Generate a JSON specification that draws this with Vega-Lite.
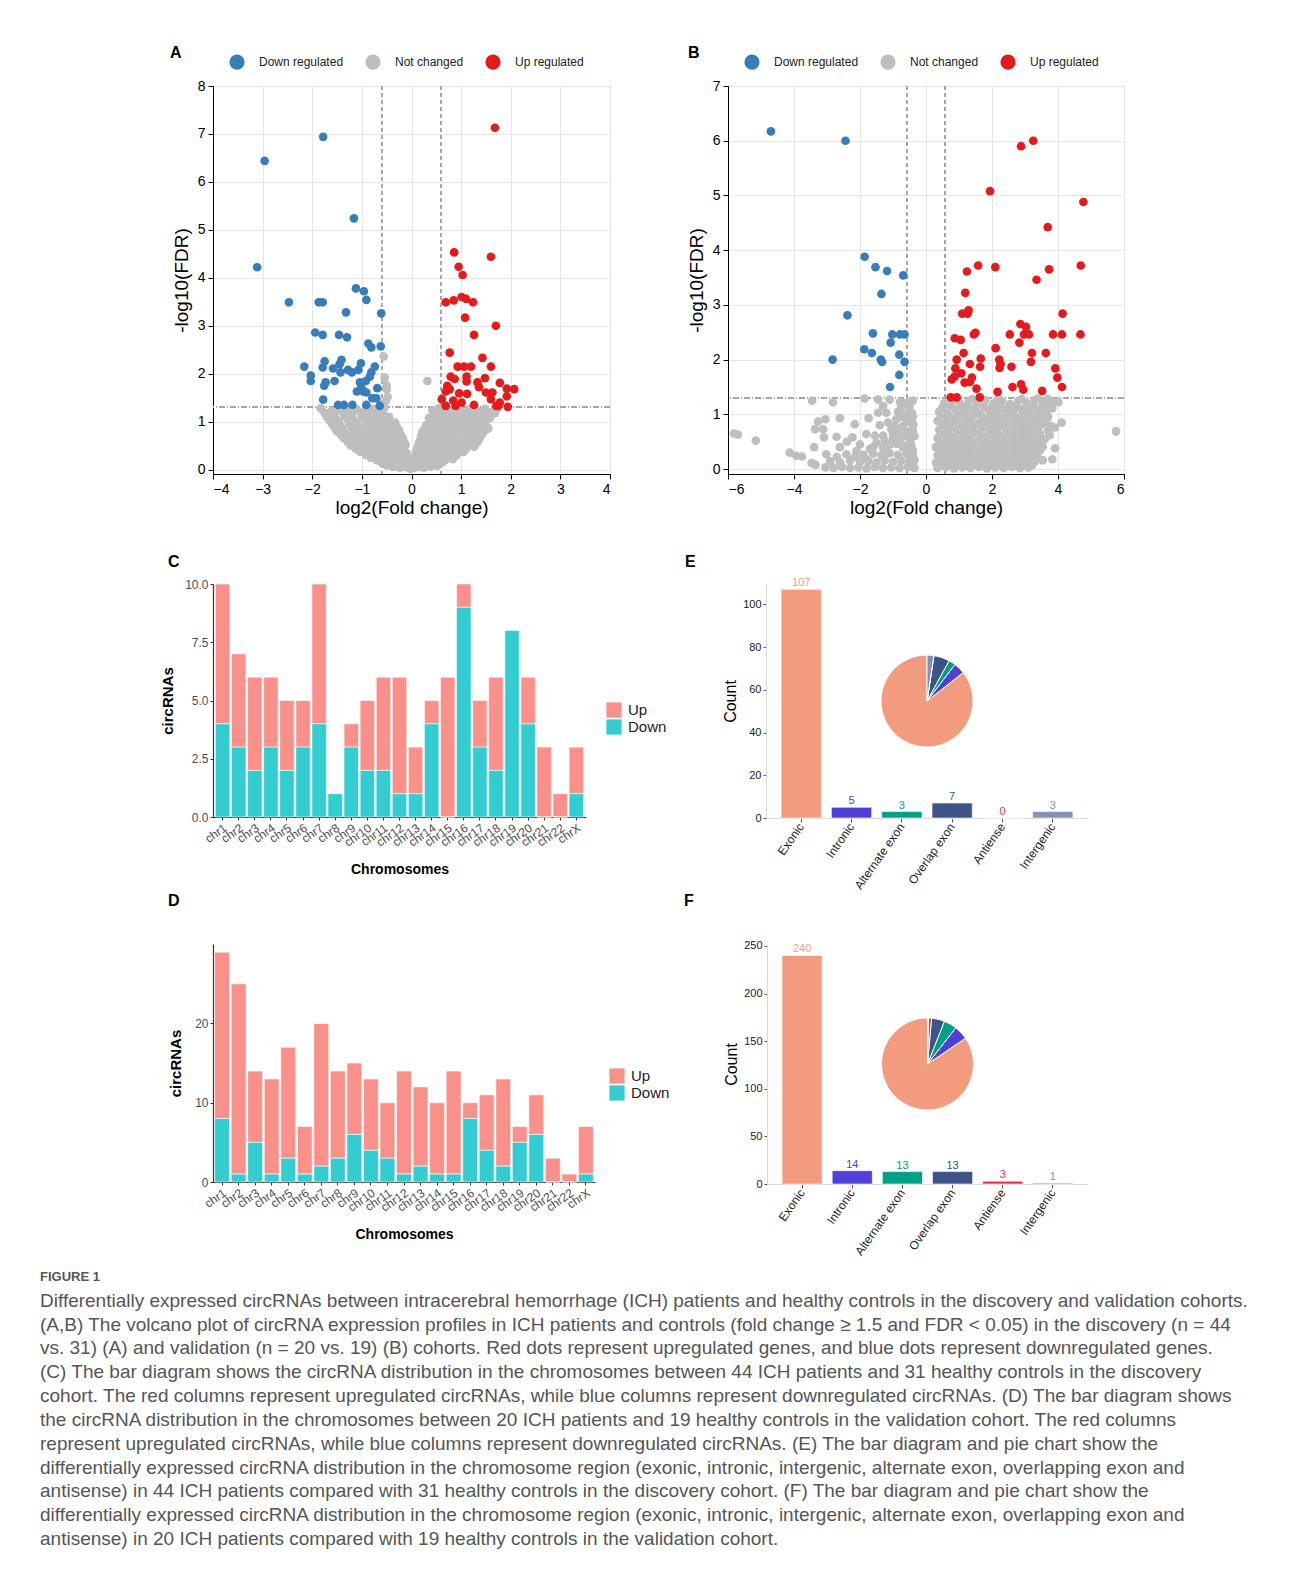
{
  "$schema": "https://vega.github.io/schema/vega-lite/v6.json",
  "background": "white",
  "padding": {"left": 40, "top": 44, "right": 0, "bottom": 0},
  "config": {
    "font": "Liberation Sans",
    "view": {"stroke": null},
    "title": {"fontSize": 16, "fontWeight": "bold", "anchor": "start", "frame": "group", "color": "#000"},
    "axis": {"grid": false, "labelColor": "#222", "titleColor": "#000", "domainColor": "#000", "tickColor": "#000"}
  },
  "resolve": {"scale": {"color": "independent"}, "legend": {"color": "independent"}},
  "datasets": {
    "volA": [
      {"x":-1.82,"y":1.27,"g":"N"},{"x":-1.62,"y":1.22,"g":"N"},{"x":-1.45,"y":1.26,"g":"N"},{"x":-1.28,"y":1.2,"g":"N"},{"x":-1.1,"y":1.25,"g":"N"},{"x":-0.93,"y":1.22,"g":"N"},{"x":-0.78,"y":1.27,"g":"N"},{"x":-0.64,"y":1.2,"g":"N"},{"x":-0.55,"y":1.28,"g":"N"},{"x":0.42,"y":1.24,"g":"N"},{"x":0.55,"y":1.28,"g":"N"},{"x":0.7,"y":1.22,"g":"N"},{"x":0.86,"y":1.27,"g":"N"},{"x":1.0,"y":1.21,"g":"N"},{"x":1.16,"y":1.26,"g":"N"},{"x":1.32,"y":1.23,"g":"N"},{"x":1.48,"y":1.27,"g":"N"},{"x":1.62,"y":1.2,"g":"N"},{"x":1.72,"y":1.26,"g":"N"},
      {"x":-1.7,"y":1.1,"g":"N"},{"x":-1.52,"y":1.06,"g":"N"},{"x":-1.35,"y":1.12,"g":"N"},{"x":-1.18,"y":1.05,"g":"N"},{"x":-1.0,"y":1.1,"g":"N"},{"x":-0.85,"y":1.07,"g":"N"},{"x":-0.7,"y":1.12,"g":"N"},{"x":-0.55,"y":1.05,"g":"N"},{"x":-0.45,"y":1.1,"g":"N"},{"x":0.35,"y":1.08,"g":"N"},{"x":0.5,"y":1.12,"g":"N"},{"x":0.65,"y":1.05,"g":"N"},{"x":0.8,"y":1.1,"g":"N"},{"x":0.95,"y":1.06,"g":"N"},{"x":1.1,"y":1.12,"g":"N"},{"x":1.25,"y":1.05,"g":"N"},{"x":1.4,"y":1.1,"g":"N"},{"x":1.58,"y":1.08,"g":"N"},
      {"x":-1.6,"y":0.95,"g":"N"},{"x":-1.42,"y":0.9,"g":"N"},{"x":-1.25,"y":0.97,"g":"N"},{"x":-1.08,"y":0.92,"g":"N"},{"x":-0.9,"y":0.96,"g":"N"},{"x":-0.73,"y":0.9,"g":"N"},{"x":-0.58,"y":0.95,"g":"N"},{"x":-0.42,"y":0.92,"g":"N"},{"x":-0.33,"y":0.98,"g":"N"},{"x":0.3,"y":0.93,"g":"N"},{"x":0.45,"y":0.97,"g":"N"},{"x":0.6,"y":0.9,"g":"N"},{"x":0.76,"y":0.95,"g":"N"},{"x":0.92,"y":0.91,"g":"N"},{"x":1.08,"y":0.97,"g":"N"},{"x":1.24,"y":0.92,"g":"N"},{"x":1.4,"y":0.96,"g":"N"},{"x":1.53,"y":0.88,"g":"N"},
      {"x":-1.5,"y":0.8,"g":"N"},{"x":-1.33,"y":0.76,"g":"N"},{"x":-1.16,"y":0.82,"g":"N"},{"x":-1.0,"y":0.78,"g":"N"},{"x":-0.83,"y":0.81,"g":"N"},{"x":-0.66,"y":0.76,"g":"N"},{"x":-0.5,"y":0.8,"g":"N"},{"x":-0.36,"y":0.77,"g":"N"},{"x":-0.25,"y":0.82,"g":"N"},{"x":0.22,"y":0.79,"g":"N"},{"x":0.36,"y":0.82,"g":"N"},{"x":0.5,"y":0.76,"g":"N"},{"x":0.66,"y":0.8,"g":"N"},{"x":0.82,"y":0.77,"g":"N"},{"x":0.98,"y":0.82,"g":"N"},{"x":1.14,"y":0.76,"g":"N"},{"x":1.3,"y":0.8,"g":"N"},{"x":1.45,"y":0.78,"g":"N"},
      {"x":-1.36,"y":0.65,"g":"N"},{"x":-1.2,"y":0.62,"g":"N"},{"x":-1.03,"y":0.67,"g":"N"},{"x":-0.87,"y":0.63,"g":"N"},{"x":-0.7,"y":0.66,"g":"N"},{"x":-0.55,"y":0.62,"g":"N"},{"x":-0.4,"y":0.66,"g":"N"},{"x":-0.27,"y":0.63,"g":"N"},{"x":-0.18,"y":0.67,"g":"N"},{"x":0.18,"y":0.64,"g":"N"},{"x":0.3,"y":0.67,"g":"N"},{"x":0.45,"y":0.62,"g":"N"},{"x":0.6,"y":0.66,"g":"N"},{"x":0.76,"y":0.63,"g":"N"},{"x":0.92,"y":0.67,"g":"N"},{"x":1.08,"y":0.62,"g":"N"},{"x":1.23,"y":0.66,"g":"N"},{"x":1.36,"y":0.63,"g":"N"},
      {"x":-1.22,"y":0.5,"g":"N"},{"x":-1.06,"y":0.47,"g":"N"},{"x":-0.9,"y":0.52,"g":"N"},{"x":-0.74,"y":0.48,"g":"N"},{"x":-0.58,"y":0.51,"g":"N"},{"x":-0.44,"y":0.47,"g":"N"},{"x":-0.3,"y":0.51,"g":"N"},{"x":-0.19,"y":0.48,"g":"N"},{"x":-0.12,"y":0.52,"g":"N"},{"x":0.13,"y":0.49,"g":"N"},{"x":0.24,"y":0.52,"g":"N"},{"x":0.38,"y":0.47,"g":"N"},{"x":0.53,"y":0.51,"g":"N"},{"x":0.68,"y":0.48,"g":"N"},{"x":0.83,"y":0.52,"g":"N"},{"x":0.98,"y":0.47,"g":"N"},{"x":1.13,"y":0.51,"g":"N"},{"x":1.26,"y":0.48,"g":"N"},
      {"x":-1.03,"y":0.37,"g":"N"},{"x":-0.88,"y":0.34,"g":"N"},{"x":-0.73,"y":0.38,"g":"N"},{"x":-0.58,"y":0.35,"g":"N"},{"x":-0.44,"y":0.38,"g":"N"},{"x":-0.31,"y":0.34,"g":"N"},{"x":-0.2,"y":0.37,"g":"N"},{"x":-0.1,"y":0.35,"g":"N"},{"x":0.09,"y":0.36,"g":"N"},{"x":0.2,"y":0.38,"g":"N"},{"x":0.33,"y":0.34,"g":"N"},{"x":0.47,"y":0.37,"g":"N"},{"x":0.62,"y":0.35,"g":"N"},{"x":0.77,"y":0.38,"g":"N"},{"x":0.92,"y":0.34,"g":"N"},{"x":1.05,"y":0.37,"g":"N"},
      {"x":-0.82,"y":0.25,"g":"N"},{"x":-0.68,"y":0.22,"g":"N"},{"x":-0.54,"y":0.26,"g":"N"},{"x":-0.4,"y":0.23,"g":"N"},{"x":-0.27,"y":0.26,"g":"N"},{"x":-0.15,"y":0.22,"g":"N"},{"x":-0.07,"y":0.25,"g":"N"},{"x":0.07,"y":0.24,"g":"N"},{"x":0.17,"y":0.26,"g":"N"},{"x":0.3,"y":0.22,"g":"N"},{"x":0.44,"y":0.25,"g":"N"},{"x":0.58,"y":0.23,"g":"N"},{"x":0.72,"y":0.26,"g":"N"},{"x":0.83,"y":0.22,"g":"N"},
      {"x":-0.6,"y":0.14,"g":"N"},{"x":-0.47,"y":0.12,"g":"N"},{"x":-0.34,"y":0.15,"g":"N"},{"x":-0.22,"y":0.12,"g":"N"},{"x":-0.11,"y":0.14,"g":"N"},{"x":-0.04,"y":0.11,"g":"N"},{"x":0.05,"y":0.13,"g":"N"},{"x":0.14,"y":0.15,"g":"N"},{"x":0.25,"y":0.12,"g":"N"},{"x":0.37,"y":0.14,"g":"N"},{"x":0.5,"y":0.12,"g":"N"},{"x":0.62,"y":0.15,"g":"N"},
      {"x":-0.38,"y":0.06,"g":"N"},{"x":-0.24,"y":0.04,"g":"N"},{"x":-0.12,"y":0.05,"g":"N"},{"x":-0.03,"y":0.02,"g":"N"},{"x":0.03,"y":0.03,"g":"N"},{"x":0.13,"y":0.05,"g":"N"},{"x":0.25,"y":0.04,"g":"N"},{"x":0.38,"y":0.06,"g":"N"},
      {"x":-1.75,"y":1.18,"g":"N"},{"x":-1.55,"y":1.15,"g":"N"},{"x":-1.37,"y":1.19,"g":"N"},{"x":-1.2,"y":1.16,"g":"N"},{"x":-1.02,"y":1.18,"g":"N"},{"x":-0.86,"y":1.15,"g":"N"},{"x":-0.7,"y":1.19,"g":"N"},{"x":-0.58,"y":1.16,"g":"N"},{"x":0.48,"y":1.17,"g":"N"},{"x":0.62,"y":1.15,"g":"N"},{"x":0.78,"y":1.19,"g":"N"},{"x":0.93,"y":1.16,"g":"N"},{"x":1.08,"y":1.18,"g":"N"},{"x":1.24,"y":1.15,"g":"N"},{"x":1.4,"y":1.19,"g":"N"},{"x":1.55,"y":1.16,"g":"N"},{"x":1.68,"y":1.18,"g":"N"},
      {"x":-1.64,"y":1.02,"g":"N"},{"x":-1.46,"y":0.99,"g":"N"},{"x":-1.28,"y":1.03,"g":"N"},{"x":-1.1,"y":1.0,"g":"N"},{"x":-0.92,"y":1.02,"g":"N"},{"x":-0.76,"y":0.99,"g":"N"},{"x":-0.6,"y":1.03,"g":"N"},{"x":-0.5,"y":1.0,"g":"N"},{"x":0.38,"y":1.01,"g":"N"},{"x":0.55,"y":1.03,"g":"N"},{"x":0.72,"y":0.99,"g":"N"},{"x":0.88,"y":1.02,"g":"N"},{"x":1.03,"y":1.0,"g":"N"},{"x":1.18,"y":1.03,"g":"N"},{"x":1.33,"y":0.99,"g":"N"},{"x":1.5,"y":1.02,"g":"N"},
      {"x":-1.55,"y":0.87,"g":"N"},{"x":-1.38,"y":0.85,"g":"N"},{"x":-1.2,"y":0.88,"g":"N"},{"x":-1.03,"y":0.86,"g":"N"},{"x":-0.86,"y":0.88,"g":"N"},{"x":-0.68,"y":0.85,"g":"N"},{"x":-0.52,"y":0.88,"g":"N"},{"x":-0.38,"y":0.86,"g":"N"},{"x":-0.29,"y":0.88,"g":"N"},{"x":0.27,"y":0.86,"g":"N"},{"x":0.42,"y":0.88,"g":"N"},{"x":0.57,"y":0.85,"g":"N"},{"x":0.73,"y":0.88,"g":"N"},{"x":0.89,"y":0.86,"g":"N"},{"x":1.05,"y":0.88,"g":"N"},{"x":1.2,"y":0.85,"g":"N"},{"x":1.36,"y":0.88,"g":"N"},{"x":1.5,"y":0.84,"g":"N"},
      {"x":-1.42,"y":0.72,"g":"N"},{"x":-1.26,"y":0.7,"g":"N"},{"x":-1.1,"y":0.73,"g":"N"},{"x":-0.93,"y":0.71,"g":"N"},{"x":-0.77,"y":0.73,"g":"N"},{"x":-0.6,"y":0.7,"g":"N"},{"x":-0.45,"y":0.73,"g":"N"},{"x":-0.32,"y":0.71,"g":"N"},{"x":-0.22,"y":0.73,"g":"N"},{"x":0.2,"y":0.71,"g":"N"},{"x":0.33,"y":0.73,"g":"N"},{"x":0.48,"y":0.7,"g":"N"},{"x":0.64,"y":0.73,"g":"N"},{"x":0.8,"y":0.71,"g":"N"},{"x":0.96,"y":0.73,"g":"N"},{"x":1.12,"y":0.7,"g":"N"},{"x":1.27,"y":0.73,"g":"N"},{"x":1.4,"y":0.71,"g":"N"},
      {"x":-1.28,"y":0.57,"g":"N"},{"x":-1.12,"y":0.55,"g":"N"},{"x":-0.96,"y":0.58,"g":"N"},{"x":-0.8,"y":0.56,"g":"N"},{"x":-0.64,"y":0.58,"g":"N"},{"x":-0.5,"y":0.55,"g":"N"},{"x":-0.35,"y":0.58,"g":"N"},{"x":-0.24,"y":0.56,"g":"N"},{"x":-0.15,"y":0.58,"g":"N"},{"x":0.15,"y":0.56,"g":"N"},{"x":0.27,"y":0.58,"g":"N"},{"x":0.41,"y":0.55,"g":"N"},{"x":0.57,"y":0.58,"g":"N"},{"x":0.72,"y":0.56,"g":"N"},{"x":0.88,"y":0.58,"g":"N"},{"x":1.03,"y":0.55,"g":"N"},{"x":1.18,"y":0.58,"g":"N"},{"x":1.32,"y":0.56,"g":"N"},
      {"x":-1.12,"y":0.43,"g":"N"},{"x":-0.96,"y":0.41,"g":"N"},{"x":-0.8,"y":0.44,"g":"N"},{"x":-0.65,"y":0.42,"g":"N"},{"x":-0.51,"y":0.44,"g":"N"},{"x":-0.37,"y":0.41,"g":"N"},{"x":-0.25,"y":0.44,"g":"N"},{"x":-0.15,"y":0.42,"g":"N"},{"x":0.11,"y":0.42,"g":"N"},{"x":0.22,"y":0.44,"g":"N"},{"x":0.35,"y":0.41,"g":"N"},{"x":0.5,"y":0.44,"g":"N"},{"x":0.65,"y":0.42,"g":"N"},{"x":0.8,"y":0.44,"g":"N"},{"x":0.95,"y":0.41,"g":"N"},{"x":1.1,"y":0.43,"g":"N"},
      {"x":-0.92,"y":0.31,"g":"N"},{"x":-0.77,"y":0.29,"g":"N"},{"x":-0.62,"y":0.32,"g":"N"},{"x":-0.48,"y":0.3,"g":"N"},{"x":-0.34,"y":0.32,"g":"N"},{"x":-0.22,"y":0.29,"g":"N"},{"x":-0.12,"y":0.31,"g":"N"},{"x":0.08,"y":0.3,"g":"N"},{"x":0.18,"y":0.32,"g":"N"},{"x":0.31,"y":0.29,"g":"N"},{"x":0.45,"y":0.32,"g":"N"},{"x":0.6,"y":0.3,"g":"N"},{"x":0.75,"y":0.32,"g":"N"},{"x":0.9,"y":0.29,"g":"N"},
      {"x":-0.7,"y":0.2,"g":"N"},{"x":-0.56,"y":0.18,"g":"N"},{"x":-0.42,"y":0.2,"g":"N"},{"x":-0.29,"y":0.19,"g":"N"},{"x":-0.18,"y":0.2,"g":"N"},{"x":-0.09,"y":0.18,"g":"N"},{"x":0.06,"y":0.19,"g":"N"},{"x":0.15,"y":0.2,"g":"N"},{"x":0.27,"y":0.18,"g":"N"},{"x":0.4,"y":0.2,"g":"N"},{"x":0.54,"y":0.19,"g":"N"},{"x":0.68,"y":0.2,"g":"N"},
      {"x":-0.5,"y":0.09,"g":"N"},{"x":-0.36,"y":0.08,"g":"N"},{"x":-0.24,"y":0.09,"g":"N"},{"x":-0.14,"y":0.08,"g":"N"},{"x":-0.06,"y":0.07,"g":"N"},{"x":0.06,"y":0.08,"g":"N"},{"x":0.16,"y":0.09,"g":"N"},{"x":0.28,"y":0.08,"g":"N"},{"x":0.42,"y":0.09,"g":"N"},{"x":0.52,"y":0.08,"g":"N"},
      {"x":-0.56,"y":2.36,"g":"N"},{"x":-0.54,"y":1.92,"g":"N"},{"x":-0.5,"y":1.76,"g":"N"},{"x":-0.5,"y":1.68,"g":"N"},{"x":-0.48,"y":1.52,"g":"N"},{"x":-0.52,"y":1.43,"g":"N"},{"x":0.32,"y":1.85,"g":"N"},{"x":-1.83,"y":1.28,"g":"N"},{"x":-1.65,"y":1.02,"g":"N"},{"x":1.55,"y":0.86,"g":"N"},{"x":1.63,"y":1.16,"g":"N"},{"x":-0.62,"y":1.37,"g":"N"},
      {"x":-2.96,"y":6.44,"g":"D"},{"x":-1.78,"y":6.94,"g":"D"},{"x":-1.16,"y":5.24,"g":"D"},{"x":-3.11,"y":4.22,"g":"D"},{"x":-2.47,"y":3.49,"g":"D"},{"x":-1.87,"y":3.49,"g":"D"},{"x":-1.79,"y":3.49,"g":"D"},{"x":-1.12,"y":3.78,"g":"D"},{"x":-0.96,"y":3.72,"g":"D"},{"x":-0.91,"y":3.54,"g":"D"},{"x":-1.32,"y":3.28,"g":"D"},{"x":-0.61,"y":3.26,"g":"D"},{"x":-1.94,"y":2.86,"g":"D"},{"x":-1.79,"y":2.81,"g":"D"},{"x":-1.46,"y":2.81,"g":"D"},{"x":-1.3,"y":2.76,"g":"D"},{"x":-0.87,"y":2.63,"g":"D"},{"x":-0.81,"y":2.55,"g":"D"},{"x":-0.62,"y":2.57,"g":"D"},{"x":-2.16,"y":2.15,"g":"D"},{"x":-1.75,"y":2.26,"g":"D"},{"x":-1.79,"y":2.13,"g":"D"},{"x":-1.58,"y":2.11,"g":"D"},{"x":-1.41,"y":2.29,"g":"D"},{"x":-1.45,"y":2.2,"g":"D"},{"x":-1.43,"y":2.03,"g":"D"},{"x":-1.28,"y":2.08,"g":"D"},{"x":-1.2,"y":2.03,"g":"D"},{"x":-1.07,"y":2.08,"g":"D"},{"x":-1.02,"y":2.22,"g":"D"},{"x":-0.74,"y":2.15,"g":"D"},{"x":-0.81,"y":2.03,"g":"D"},{"x":-0.84,"y":1.94,"g":"D"},{"x":-2.03,"y":1.96,"g":"D"},{"x":-2.03,"y":1.85,"g":"D"},{"x":-1.73,"y":1.82,"g":"D"},{"x":-1.76,"y":1.75,"g":"D"},{"x":-1.55,"y":1.85,"g":"D"},{"x":-1.04,"y":1.82,"g":"D"},{"x":-0.92,"y":1.85,"g":"D"},{"x":-1.1,"y":1.63,"g":"D"},{"x":-0.97,"y":1.63,"g":"D"},{"x":-0.91,"y":1.61,"g":"D"},{"x":-1.01,"y":1.72,"g":"D"},{"x":-0.69,"y":1.7,"g":"D"},{"x":-0.79,"y":1.49,"g":"D"},{"x":-0.71,"y":1.49,"g":"D"},{"x":-1.78,"y":1.46,"g":"D"},{"x":-1.48,"y":1.35,"g":"D"},{"x":-1.36,"y":1.35,"g":"D"},{"x":-1.19,"y":1.35,"g":"D"},{"x":-0.91,"y":1.35,"g":"D"},{"x":-0.64,"y":1.33,"g":"D"},
      {"x":1.68,"y":7.13,"g":"U"},{"x":0.86,"y":4.53,"g":"U"},{"x":1.6,"y":4.44,"g":"U"},{"x":0.95,"y":4.23,"g":"U"},{"x":1.03,"y":4.06,"g":"U"},{"x":1.01,"y":3.6,"g":"U"},{"x":1.1,"y":3.56,"g":"U"},{"x":0.69,"y":3.49,"g":"U"},{"x":0.85,"y":3.53,"g":"U"},{"x":1.24,"y":3.49,"g":"U"},{"x":1.08,"y":3.17,"g":"U"},{"x":1.7,"y":3.0,"g":"U"},{"x":1.26,"y":2.81,"g":"U"},{"x":0.77,"y":2.44,"g":"U"},{"x":1.43,"y":2.33,"g":"U"},{"x":0.93,"y":2.15,"g":"U"},{"x":1.06,"y":2.15,"g":"U"},{"x":1.2,"y":2.15,"g":"U"},{"x":1.6,"y":2.15,"g":"U"},{"x":0.79,"y":1.94,"g":"U"},{"x":0.87,"y":1.89,"g":"U"},{"x":1.11,"y":1.94,"g":"U"},{"x":1.11,"y":1.84,"g":"U"},{"x":1.48,"y":1.91,"g":"U"},{"x":1.33,"y":1.82,"g":"U"},{"x":1.78,"y":1.81,"g":"U"},{"x":0.72,"y":1.75,"g":"U"},{"x":0.69,"y":1.63,"g":"U"},{"x":0.77,"y":1.68,"g":"U"},{"x":0.96,"y":1.59,"g":"U"},{"x":1.12,"y":1.58,"g":"U"},{"x":1.36,"y":1.72,"g":"U"},{"x":1.63,"y":1.61,"g":"U"},{"x":1.92,"y":1.69,"g":"U"},{"x":2.07,"y":1.68,"g":"U"},{"x":0.61,"y":1.47,"g":"U"},{"x":0.84,"y":1.44,"g":"U"},{"x":1.01,"y":1.4,"g":"U"},{"x":1.5,"y":1.61,"g":"U"},{"x":1.6,"y":1.47,"g":"U"},{"x":1.92,"y":1.53,"g":"U"},{"x":1.78,"y":1.4,"g":"U"},{"x":1.75,"y":1.33,"g":"U"},{"x":1.26,"y":1.35,"g":"U"},{"x":1.94,"y":1.31,"g":"U"},{"x":0.69,"y":1.33,"g":"U"},{"x":0.89,"y":1.33,"g":"U"},{"x":1.71,"y":1.33,"g":"U"}
    ],
    "volB": [
      {"x":0.55,"y":1.2,"g":"N"},{"x":0.82,"y":1.25,"g":"N"},{"x":1.05,"y":1.19,"g":"N"},{"x":1.3,"y":1.24,"g":"N"},{"x":1.55,"y":1.21,"g":"N"},{"x":1.8,"y":1.26,"g":"N"},{"x":2.05,"y":1.2,"g":"N"},{"x":2.3,"y":1.24,"g":"N"},{"x":2.55,"y":1.19,"g":"N"},{"x":2.8,"y":1.25,"g":"N"},{"x":3.05,"y":1.21,"g":"N"},{"x":3.3,"y":1.26,"g":"N"},{"x":3.55,"y":1.2,"g":"N"},{"x":3.8,"y":1.24,"g":"N"},
      {"x":0.9,"y":1.29,"g":"N"},{"x":1.4,"y":1.28,"g":"N"},{"x":2.2,"y":1.29,"g":"N"},{"x":2.9,"y":1.28,"g":"N"},{"x":3.4,"y":1.29,"g":"N"},
      {"x":0.4,"y":1.05,"g":"N"},{"x":0.65,"y":1.02,"g":"N"},{"x":0.9,"y":1.07,"g":"N"},{"x":1.15,"y":1.03,"g":"N"},{"x":1.4,"y":1.06,"g":"N"},{"x":1.65,"y":1.01,"g":"N"},{"x":1.9,"y":1.07,"g":"N"},{"x":2.15,"y":1.04,"g":"N"},{"x":2.4,"y":1.06,"g":"N"},{"x":2.65,"y":1.02,"g":"N"},{"x":2.9,"y":1.08,"g":"N"},{"x":3.15,"y":1.03,"g":"N"},{"x":3.4,"y":1.06,"g":"N"},{"x":3.65,"y":1.02,"g":"N"},
      {"x":0.35,"y":0.88,"g":"N"},{"x":0.6,"y":0.85,"g":"N"},{"x":0.85,"y":0.9,"g":"N"},{"x":1.1,"y":0.86,"g":"N"},{"x":1.35,"y":0.89,"g":"N"},{"x":1.6,"y":0.84,"g":"N"},{"x":1.85,"y":0.9,"g":"N"},{"x":2.1,"y":0.87,"g":"N"},{"x":2.35,"y":0.91,"g":"N"},{"x":2.6,"y":0.85,"g":"N"},{"x":2.85,"y":0.89,"g":"N"},{"x":3.1,"y":0.86,"g":"N"},{"x":3.35,"y":0.9,"g":"N"},{"x":3.6,"y":0.85,"g":"N"},
      {"x":0.4,"y":0.72,"g":"N"},{"x":0.65,"y":0.69,"g":"N"},{"x":0.9,"y":0.74,"g":"N"},{"x":1.15,"y":0.7,"g":"N"},{"x":1.4,"y":0.73,"g":"N"},{"x":1.65,"y":0.68,"g":"N"},{"x":1.9,"y":0.74,"g":"N"},{"x":2.15,"y":0.71,"g":"N"},{"x":2.4,"y":0.75,"g":"N"},{"x":2.65,"y":0.69,"g":"N"},{"x":2.9,"y":0.73,"g":"N"},{"x":3.15,"y":0.7,"g":"N"},{"x":3.4,"y":0.74,"g":"N"},{"x":3.7,"y":0.7,"g":"N"},
      {"x":0.35,"y":0.56,"g":"N"},{"x":0.6,"y":0.53,"g":"N"},{"x":0.85,"y":0.58,"g":"N"},{"x":1.1,"y":0.54,"g":"N"},{"x":1.35,"y":0.57,"g":"N"},{"x":1.6,"y":0.52,"g":"N"},{"x":1.85,"y":0.58,"g":"N"},{"x":2.1,"y":0.55,"g":"N"},{"x":2.35,"y":0.59,"g":"N"},{"x":2.6,"y":0.53,"g":"N"},{"x":2.85,"y":0.57,"g":"N"},{"x":3.1,"y":0.54,"g":"N"},{"x":3.35,"y":0.58,"g":"N"},{"x":3.6,"y":0.55,"g":"N"},
      {"x":0.3,"y":0.4,"g":"N"},{"x":0.55,"y":0.37,"g":"N"},{"x":0.8,"y":0.42,"g":"N"},{"x":1.05,"y":0.38,"g":"N"},{"x":1.3,"y":0.41,"g":"N"},{"x":1.55,"y":0.36,"g":"N"},{"x":1.8,"y":0.42,"g":"N"},{"x":2.05,"y":0.39,"g":"N"},{"x":2.3,"y":0.43,"g":"N"},{"x":2.55,"y":0.37,"g":"N"},{"x":2.8,"y":0.41,"g":"N"},{"x":3.05,"y":0.38,"g":"N"},{"x":3.3,"y":0.42,"g":"N"},
      {"x":0.35,"y":0.25,"g":"N"},{"x":0.6,"y":0.22,"g":"N"},{"x":0.85,"y":0.27,"g":"N"},{"x":1.1,"y":0.23,"g":"N"},{"x":1.35,"y":0.26,"g":"N"},{"x":1.6,"y":0.21,"g":"N"},{"x":1.85,"y":0.27,"g":"N"},{"x":2.1,"y":0.24,"g":"N"},{"x":2.35,"y":0.28,"g":"N"},{"x":2.6,"y":0.22,"g":"N"},{"x":2.85,"y":0.26,"g":"N"},{"x":3.1,"y":0.23,"g":"N"},{"x":3.35,"y":0.27,"g":"N"},
      {"x":0.3,"y":0.12,"g":"N"},{"x":0.55,"y":0.1,"g":"N"},{"x":0.8,"y":0.14,"g":"N"},{"x":1.05,"y":0.11,"g":"N"},{"x":1.3,"y":0.13,"g":"N"},{"x":1.55,"y":0.09,"g":"N"},{"x":1.8,"y":0.14,"g":"N"},{"x":2.05,"y":0.12,"g":"N"},{"x":2.3,"y":0.15,"g":"N"},{"x":2.55,"y":0.1,"g":"N"},{"x":2.8,"y":0.13,"g":"N"},{"x":3.05,"y":0.11,"g":"N"},{"x":3.3,"y":0.14,"g":"N"},
      {"x":0.35,"y":0.02,"g":"N"},{"x":0.6,"y":0.03,"g":"N"},{"x":0.85,"y":0.01,"g":"N"},{"x":1.1,"y":0.03,"g":"N"},{"x":1.35,"y":0.02,"g":"N"},{"x":1.6,"y":0.04,"g":"N"},{"x":1.85,"y":0.01,"g":"N"},{"x":2.1,"y":0.03,"g":"N"},{"x":2.35,"y":0.02,"g":"N"},{"x":2.6,"y":0.04,"g":"N"},{"x":2.85,"y":0.02,"g":"N"},{"x":3.1,"y":0.03,"g":"N"},
      {"x":0.5,"y":1.13,"g":"N"},{"x":0.75,"y":1.15,"g":"N"},{"x":1.0,"y":1.12,"g":"N"},{"x":1.25,"y":1.14,"g":"N"},{"x":1.5,"y":1.12,"g":"N"},{"x":1.75,"y":1.15,"g":"N"},{"x":2.0,"y":1.13,"g":"N"},{"x":2.25,"y":1.15,"g":"N"},{"x":2.5,"y":1.12,"g":"N"},{"x":2.75,"y":1.14,"g":"N"},{"x":3.0,"y":1.12,"g":"N"},{"x":3.25,"y":1.15,"g":"N"},{"x":3.5,"y":1.13,"g":"N"},{"x":3.75,"y":1.14,"g":"N"},
      {"x":0.45,"y":0.97,"g":"N"},{"x":0.7,"y":0.95,"g":"N"},{"x":0.95,"y":0.98,"g":"N"},{"x":1.2,"y":0.96,"g":"N"},{"x":1.45,"y":0.98,"g":"N"},{"x":1.7,"y":0.95,"g":"N"},{"x":1.95,"y":0.97,"g":"N"},{"x":2.2,"y":0.95,"g":"N"},{"x":2.45,"y":0.98,"g":"N"},{"x":2.7,"y":0.96,"g":"N"},{"x":2.95,"y":0.98,"g":"N"},{"x":3.2,"y":0.95,"g":"N"},{"x":3.45,"y":0.97,"g":"N"},{"x":3.7,"y":0.95,"g":"N"},
      {"x":0.5,"y":0.8,"g":"N"},{"x":0.75,"y":0.78,"g":"N"},{"x":1.0,"y":0.81,"g":"N"},{"x":1.25,"y":0.79,"g":"N"},{"x":1.5,"y":0.81,"g":"N"},{"x":1.75,"y":0.78,"g":"N"},{"x":2.0,"y":0.8,"g":"N"},{"x":2.25,"y":0.79,"g":"N"},{"x":2.5,"y":0.81,"g":"N"},{"x":2.75,"y":0.78,"g":"N"},{"x":3.0,"y":0.8,"g":"N"},{"x":3.25,"y":0.79,"g":"N"},{"x":3.5,"y":0.81,"g":"N"},{"x":3.78,"y":0.79,"g":"N"},
      {"x":0.45,"y":0.64,"g":"N"},{"x":0.7,"y":0.62,"g":"N"},{"x":0.95,"y":0.65,"g":"N"},{"x":1.2,"y":0.63,"g":"N"},{"x":1.45,"y":0.65,"g":"N"},{"x":1.7,"y":0.62,"g":"N"},{"x":1.95,"y":0.64,"g":"N"},{"x":2.2,"y":0.63,"g":"N"},{"x":2.45,"y":0.65,"g":"N"},{"x":2.7,"y":0.62,"g":"N"},{"x":2.95,"y":0.64,"g":"N"},{"x":3.2,"y":0.63,"g":"N"},{"x":3.45,"y":0.65,"g":"N"},{"x":3.75,"y":0.62,"g":"N"},
      {"x":0.42,"y":0.48,"g":"N"},{"x":0.68,"y":0.46,"g":"N"},{"x":0.92,"y":0.49,"g":"N"},{"x":1.18,"y":0.47,"g":"N"},{"x":1.42,"y":0.49,"g":"N"},{"x":1.68,"y":0.46,"g":"N"},{"x":1.92,"y":0.48,"g":"N"},{"x":2.18,"y":0.47,"g":"N"},{"x":2.42,"y":0.49,"g":"N"},{"x":2.68,"y":0.46,"g":"N"},{"x":2.92,"y":0.48,"g":"N"},{"x":3.18,"y":0.47,"g":"N"},{"x":3.45,"y":0.49,"g":"N"},
      {"x":0.45,"y":0.33,"g":"N"},{"x":0.7,"y":0.31,"g":"N"},{"x":0.95,"y":0.34,"g":"N"},{"x":1.2,"y":0.32,"g":"N"},{"x":1.45,"y":0.34,"g":"N"},{"x":1.7,"y":0.31,"g":"N"},{"x":1.95,"y":0.33,"g":"N"},{"x":2.2,"y":0.32,"g":"N"},{"x":2.45,"y":0.34,"g":"N"},{"x":2.7,"y":0.31,"g":"N"},{"x":2.95,"y":0.33,"g":"N"},{"x":3.2,"y":0.32,"g":"N"},{"x":3.45,"y":0.34,"g":"N"},
      {"x":0.42,"y":0.18,"g":"N"},{"x":0.68,"y":0.17,"g":"N"},{"x":0.92,"y":0.19,"g":"N"},{"x":1.18,"y":0.17,"g":"N"},{"x":1.42,"y":0.19,"g":"N"},{"x":1.68,"y":0.16,"g":"N"},{"x":1.92,"y":0.18,"g":"N"},{"x":2.18,"y":0.17,"g":"N"},{"x":2.42,"y":0.19,"g":"N"},{"x":2.68,"y":0.16,"g":"N"},{"x":2.92,"y":0.18,"g":"N"},{"x":3.18,"y":0.17,"g":"N"},{"x":3.42,"y":0.19,"g":"N"},
      {"x":0.45,"y":0.07,"g":"N"},{"x":0.7,"y":0.06,"g":"N"},{"x":0.95,"y":0.08,"g":"N"},{"x":1.2,"y":0.06,"g":"N"},{"x":1.45,"y":0.07,"g":"N"},{"x":1.7,"y":0.06,"g":"N"},{"x":1.95,"y":0.08,"g":"N"},{"x":2.2,"y":0.06,"g":"N"},{"x":2.45,"y":0.07,"g":"N"},{"x":2.7,"y":0.06,"g":"N"},{"x":2.95,"y":0.08,"g":"N"},{"x":3.2,"y":0.06,"g":"N"},
      {"x":5.76,"y":0.69,"g":"N"},{"x":3.54,"y":0.16,"g":"N"},{"x":3.83,"y":0.18,"g":"N"},{"x":3.91,"y":0.38,"g":"N"},{"x":3.54,"y":0.41,"g":"N"},{"x":4.11,"y":0.85,"g":"N"},{"x":3.91,"y":0.76,"g":"N"},{"x":3.83,"y":1.11,"g":"N"},{"x":4.01,"y":1.22,"g":"N"},{"x":3.69,"y":1.28,"g":"N"},
      {"x":-3.45,"y":1.25,"g":"N"},{"x":-2.82,"y":1.22,"g":"N"},{"x":-1.86,"y":1.29,"g":"N"},{"x":-1.45,"y":1.27,"g":"N"},{"x":-1.1,"y":1.27,"g":"N"},{"x":-0.79,"y":1.22,"g":"N"},{"x":-0.54,"y":1.22,"g":"N"},{"x":-3.27,"y":0.87,"g":"N"},{"x":-3.05,"y":0.91,"g":"N"},{"x":-2.61,"y":0.93,"g":"N"},{"x":-2.16,"y":0.82,"g":"N"},{"x":-1.74,"y":0.93,"g":"N"},{"x":-1.45,"y":1.03,"g":"N"},{"x":-1.2,"y":1.03,"g":"N"},{"x":-0.9,"y":0.91,"g":"N"},{"x":-0.69,"y":0.79,"g":"N"},{"x":-3.36,"y":0.73,"g":"N"},{"x":-3.12,"y":0.73,"g":"N"},{"x":-3.09,"y":0.58,"g":"N"},{"x":-2.71,"y":0.59,"g":"N"},{"x":-2.23,"y":0.58,"g":"N"},{"x":-1.81,"y":0.64,"g":"N"},{"x":-1.55,"y":0.61,"g":"N"},{"x":-1.3,"y":0.61,"g":"N"},{"x":-1.05,"y":0.73,"g":"N"},{"x":-0.49,"y":0.55,"g":"N"},{"x":-3.39,"y":0.4,"g":"N"},{"x":-3.02,"y":0.27,"g":"N"},{"x":-2.61,"y":0.4,"g":"N"},{"x":-2.41,"y":0.27,"g":"N"},{"x":-2.11,"y":0.33,"g":"N"},{"x":-1.7,"y":0.37,"g":"N"},{"x":-1.3,"y":0.4,"g":"N"},{"x":-0.9,"y":0.46,"g":"N"},{"x":-0.59,"y":0.43,"g":"N"},{"x":-4.13,"y":0.3,"g":"N"},{"x":-3.93,"y":0.24,"g":"N"},{"x":-3.76,"y":0.23,"g":"N"},{"x":-3.47,"y":0.11,"g":"N"},{"x":-3.35,"y":0.08,"g":"N"},{"x":-5.82,"y":0.65,"g":"N"},{"x":-5.7,"y":0.63,"g":"N"},{"x":-5.16,"y":0.52,"g":"N"},
      {"x":-3.05,"y":0.03,"g":"N"},{"x":-2.8,"y":0.02,"g":"N"},{"x":-2.55,"y":0.04,"g":"N"},{"x":-2.3,"y":0.02,"g":"N"},{"x":-2.05,"y":0.03,"g":"N"},{"x":-1.8,"y":0.01,"g":"N"},{"x":-1.55,"y":0.04,"g":"N"},{"x":-1.3,"y":0.02,"g":"N"},{"x":-1.05,"y":0.03,"g":"N"},{"x":-0.8,"y":0.02,"g":"N"},{"x":-0.55,"y":0.04,"g":"N"},{"x":-0.35,"y":0.02,"g":"N"},
      {"x":-2.9,"y":0.14,"g":"N"},{"x":-2.6,"y":0.12,"g":"N"},{"x":-2.3,"y":0.16,"g":"N"},{"x":-2.0,"y":0.13,"g":"N"},{"x":-1.75,"y":0.15,"g":"N"},{"x":-1.5,"y":0.12,"g":"N"},{"x":-1.25,"y":0.16,"g":"N"},{"x":-1.0,"y":0.13,"g":"N"},{"x":-0.75,"y":0.15,"g":"N"},{"x":-0.5,"y":0.12,"g":"N"},{"x":-0.35,"y":0.16,"g":"N"},
      {"x":-1.9,"y":0.26,"g":"N"},{"x":-1.6,"y":0.28,"g":"N"},{"x":-1.35,"y":0.25,"g":"N"},{"x":-1.1,"y":0.29,"g":"N"},{"x":-0.85,"y":0.26,"g":"N"},{"x":-0.6,"y":0.28,"g":"N"},{"x":-0.4,"y":0.25,"g":"N"},
      {"x":-0.8,"y":0.7,"g":"N"},{"x":-0.55,"y":0.68,"g":"N"},{"x":-0.4,"y":0.72,"g":"N"},{"x":-0.45,"y":0.85,"g":"N"},{"x":-0.6,"y":1.0,"g":"N"},{"x":-0.42,"y":1.02,"g":"N"},{"x":-0.75,"y":1.12,"g":"N"},{"x":-0.5,"y":1.14,"g":"N"},{"x":-1.0,"y":0.55,"g":"N"},{"x":-0.75,"y":0.58,"g":"N"},{"x":-0.6,"y":0.35,"g":"N"},{"x":-1.15,"y":0.3,"g":"N"},
      {"x":-1.5,"y":0.48,"g":"N"},{"x":-1.25,"y":0.52,"g":"N"},{"x":-1.0,"y":0.62,"g":"N"},{"x":-0.8,"y":0.52,"g":"N"},{"x":-0.62,"y":0.6,"g":"N"},{"x":-0.45,"y":0.45,"g":"N"},{"x":-1.4,"y":0.8,"g":"N"},{"x":-1.15,"y":0.85,"g":"N"},{"x":-0.95,"y":0.78,"g":"N"},{"x":-0.7,"y":0.95,"g":"N"},{"x":-0.55,"y":0.9,"g":"N"},{"x":-0.85,"y":1.05,"g":"N"},{"x":-0.65,"y":1.2,"g":"N"},{"x":-0.4,"y":1.25,"g":"N"},{"x":-1.3,"y":1.15,"g":"N"},{"x":-1.6,"y":0.4,"g":"N"},{"x":-2.0,"y":0.45,"g":"N"},{"x":-2.4,"y":0.5,"g":"N"},{"x":-1.85,"y":0.2,"g":"N"},{"x":-2.15,"y":0.22,"g":"N"},{"x":-2.7,"y":0.22,"g":"N"},{"x":-0.4,"y":0.35,"g":"N"},{"x":-0.5,"y":0.22,"g":"N"},{"x":-0.7,"y":0.4,"g":"N"},{"x":-1.1,"y":0.45,"g":"N"},{"x":-0.35,"y":0.6,"g":"N"},{"x":-0.38,"y":0.82,"g":"N"},{"x":-0.4,"y":0.95,"g":"N"},
      {"x":-4.7,"y":6.17,"g":"D"},{"x":-2.44,"y":6.0,"g":"D"},{"x":-1.86,"y":3.88,"g":"D"},{"x":-1.53,"y":3.69,"g":"D"},{"x":-1.18,"y":3.62,"g":"D"},{"x":-0.69,"y":3.54,"g":"D"},{"x":-1.35,"y":3.2,"g":"D"},{"x":-2.38,"y":2.81,"g":"D"},{"x":-1.61,"y":2.48,"g":"D"},{"x":-1.02,"y":2.46,"g":"D"},{"x":-0.79,"y":2.46,"g":"D"},{"x":-0.65,"y":2.46,"g":"D"},{"x":-1.07,"y":2.31,"g":"D"},{"x":-1.87,"y":2.19,"g":"D"},{"x":-1.64,"y":2.12,"g":"D"},{"x":-0.81,"y":2.09,"g":"D"},{"x":-1.37,"y":2.0,"g":"D"},{"x":-1.33,"y":1.96,"g":"D"},{"x":-0.65,"y":1.96,"g":"D"},{"x":-2.83,"y":2.0,"g":"D"},{"x":-0.81,"y":1.72,"g":"D"},{"x":-1.09,"y":1.5,"g":"D"},
      {"x":3.25,"y":6.0,"g":"U"},{"x":2.88,"y":5.9,"g":"U"},{"x":1.94,"y":5.08,"g":"U"},{"x":4.77,"y":4.88,"g":"U"},{"x":3.69,"y":4.42,"g":"U"},{"x":1.58,"y":3.72,"g":"U"},{"x":2.1,"y":3.69,"g":"U"},{"x":1.24,"y":3.61,"g":"U"},{"x":3.73,"y":3.65,"g":"U"},{"x":4.69,"y":3.72,"g":"U"},{"x":3.35,"y":3.46,"g":"U"},{"x":1.19,"y":3.22,"g":"U"},{"x":1.29,"y":2.9,"g":"U"},{"x":1.1,"y":2.84,"g":"U"},{"x":1.26,"y":2.84,"g":"U"},{"x":4.14,"y":2.84,"g":"U"},{"x":2.86,"y":2.65,"g":"U"},{"x":3.03,"y":2.6,"g":"U"},{"x":0.87,"y":2.39,"g":"U"},{"x":1.05,"y":2.36,"g":"U"},{"x":1.45,"y":2.46,"g":"U"},{"x":1.5,"y":2.49,"g":"U"},{"x":2.54,"y":2.46,"g":"U"},{"x":2.97,"y":2.46,"g":"U"},{"x":3.12,"y":2.46,"g":"U"},{"x":3.85,"y":2.46,"g":"U"},{"x":4.12,"y":2.46,"g":"U"},{"x":4.68,"y":2.46,"g":"U"},{"x":2.83,"y":2.31,"g":"U"},{"x":2.11,"y":2.21,"g":"U"},{"x":1.14,"y":2.12,"g":"U"},{"x":3.21,"y":2.12,"g":"U"},{"x":3.63,"y":2.12,"g":"U"},{"x":0.93,"y":2.0,"g":"U"},{"x":1.66,"y":2.02,"g":"U"},{"x":2.22,"y":2.0,"g":"U"},{"x":1.33,"y":1.92,"g":"U"},{"x":2.26,"y":1.92,"g":"U"},{"x":3.18,"y":1.96,"g":"U"},{"x":0.89,"y":1.84,"g":"U"},{"x":1.64,"y":1.87,"g":"U"},{"x":2.23,"y":1.85,"g":"U"},{"x":2.59,"y":1.87,"g":"U"},{"x":3.92,"y":1.84,"g":"U"},{"x":1.07,"y":1.75,"g":"U"},{"x":0.87,"y":1.69,"g":"U"},{"x":0.78,"y":1.64,"g":"U"},{"x":1.17,"y":1.58,"g":"U"},{"x":1.33,"y":1.59,"g":"U"},{"x":1.39,"y":1.67,"g":"U"},{"x":3.98,"y":1.67,"g":"U"},{"x":1.53,"y":1.47,"g":"U"},{"x":2.62,"y":1.5,"g":"U"},{"x":2.88,"y":1.55,"g":"U"},{"x":2.95,"y":1.45,"g":"U"},{"x":3.52,"y":1.43,"g":"U"},{"x":4.12,"y":1.5,"g":"U"},{"x":2.17,"y":1.41,"g":"U"},{"x":0.75,"y":1.31,"g":"U"},{"x":0.93,"y":1.31,"g":"U"},{"x":1.63,"y":1.31,"g":"U"}
    ],
    "chrC": [
      {"chr":"chr1","dir":"Up","n":6},{"chr":"chr1","dir":"Down","n":4},
      {"chr":"chr2","dir":"Up","n":4},{"chr":"chr2","dir":"Down","n":3},
      {"chr":"chr3","dir":"Up","n":4},{"chr":"chr3","dir":"Down","n":2},
      {"chr":"chr4","dir":"Up","n":3},{"chr":"chr4","dir":"Down","n":3},
      {"chr":"chr5","dir":"Up","n":3},{"chr":"chr5","dir":"Down","n":2},
      {"chr":"chr6","dir":"Up","n":2},{"chr":"chr6","dir":"Down","n":3},
      {"chr":"chr7","dir":"Up","n":6},{"chr":"chr7","dir":"Down","n":4},
      {"chr":"chr8","dir":"Up","n":0},{"chr":"chr8","dir":"Down","n":1},
      {"chr":"chr9","dir":"Up","n":1},{"chr":"chr9","dir":"Down","n":3},
      {"chr":"chr10","dir":"Up","n":3},{"chr":"chr10","dir":"Down","n":2},
      {"chr":"chr11","dir":"Up","n":4},{"chr":"chr11","dir":"Down","n":2},
      {"chr":"chr12","dir":"Up","n":5},{"chr":"chr12","dir":"Down","n":1},
      {"chr":"chr13","dir":"Up","n":2},{"chr":"chr13","dir":"Down","n":1},
      {"chr":"chr14","dir":"Up","n":1},{"chr":"chr14","dir":"Down","n":4},
      {"chr":"chr15","dir":"Up","n":6},{"chr":"chr15","dir":"Down","n":0},
      {"chr":"chr16","dir":"Up","n":1},{"chr":"chr16","dir":"Down","n":9},
      {"chr":"chr17","dir":"Up","n":2},{"chr":"chr17","dir":"Down","n":3},
      {"chr":"chr18","dir":"Up","n":4},{"chr":"chr18","dir":"Down","n":2},
      {"chr":"chr19","dir":"Up","n":0},{"chr":"chr19","dir":"Down","n":8},
      {"chr":"chr20","dir":"Up","n":2},{"chr":"chr20","dir":"Down","n":4},
      {"chr":"chr21","dir":"Up","n":3},{"chr":"chr21","dir":"Down","n":0},
      {"chr":"chr22","dir":"Up","n":1},{"chr":"chr22","dir":"Down","n":0},
      {"chr":"chrX","dir":"Up","n":2},{"chr":"chrX","dir":"Down","n":1}
    ],
    "chrD": [
      {"chr":"chr1","dir":"Up","n":21},{"chr":"chr1","dir":"Down","n":8},
      {"chr":"chr2","dir":"Up","n":24},{"chr":"chr2","dir":"Down","n":1},
      {"chr":"chr3","dir":"Up","n":9},{"chr":"chr3","dir":"Down","n":5},
      {"chr":"chr4","dir":"Up","n":12},{"chr":"chr4","dir":"Down","n":1},
      {"chr":"chr5","dir":"Up","n":14},{"chr":"chr5","dir":"Down","n":3},
      {"chr":"chr6","dir":"Up","n":6},{"chr":"chr6","dir":"Down","n":1},
      {"chr":"chr7","dir":"Up","n":18},{"chr":"chr7","dir":"Down","n":2},
      {"chr":"chr8","dir":"Up","n":11},{"chr":"chr8","dir":"Down","n":3},
      {"chr":"chr9","dir":"Up","n":9},{"chr":"chr9","dir":"Down","n":6},
      {"chr":"chr10","dir":"Up","n":9},{"chr":"chr10","dir":"Down","n":4},
      {"chr":"chr11","dir":"Up","n":7},{"chr":"chr11","dir":"Down","n":3},
      {"chr":"chr12","dir":"Up","n":13},{"chr":"chr12","dir":"Down","n":1},
      {"chr":"chr13","dir":"Up","n":10},{"chr":"chr13","dir":"Down","n":2},
      {"chr":"chr14","dir":"Up","n":9},{"chr":"chr14","dir":"Down","n":1},
      {"chr":"chr15","dir":"Up","n":13},{"chr":"chr15","dir":"Down","n":1},
      {"chr":"chr16","dir":"Up","n":2},{"chr":"chr16","dir":"Down","n":8},
      {"chr":"chr17","dir":"Up","n":7},{"chr":"chr17","dir":"Down","n":4},
      {"chr":"chr18","dir":"Up","n":11},{"chr":"chr18","dir":"Down","n":2},
      {"chr":"chr19","dir":"Up","n":2},{"chr":"chr19","dir":"Down","n":5},
      {"chr":"chr20","dir":"Up","n":5},{"chr":"chr20","dir":"Down","n":6},
      {"chr":"chr21","dir":"Up","n":3},{"chr":"chr21","dir":"Down","n":0},
      {"chr":"chr22","dir":"Up","n":1},{"chr":"chr22","dir":"Down","n":0},
      {"chr":"chrX","dir":"Up","n":6},{"chr":"chrX","dir":"Down","n":1}
    ],
    "regE": [
      {"cat":"Exonic","n":107,"i":1},{"cat":"Intronic","n":5,"i":2},{"cat":"Alternate exon","n":3,"i":3},{"cat":"Overlap exon","n":7,"i":4},{"cat":"Antiense","n":0,"i":5},{"cat":"Intergenic","n":3,"i":6}
    ],
    "regF": [
      {"cat":"Exonic","n":240,"i":1},{"cat":"Intronic","n":14,"i":2},{"cat":"Alternate exon","n":13,"i":3},{"cat":"Overlap exon","n":13,"i":4},{"cat":"Antiense","n":3,"i":5},{"cat":"Intergenic","n":1,"i":6}
    ],
    "caption": [
      {"ln":0,"px":0,"t":"FIGURE 1"},
      {"ln":1,"px":0,"t":"Differentially expressed circRNAs between intracerebral hemorrhage (ICH) patients and healthy controls in the discovery and validation cohorts."},
      {"ln":2,"px":0,"t":"(A,B) The volcano plot of circRNA expression profiles in ICH patients and controls (fold change ≥ 1.5 and FDR < 0.05) in the discovery (n = 44"},
      {"ln":3,"px":0,"t":"vs. 31) (A) and validation (n = 20 vs. 19) (B) cohorts. Red dots represent upregulated genes, and blue dots represent downregulated genes."},
      {"ln":4,"px":0,"t":"(C) The bar diagram shows the circRNA distribution in the chromosomes between 44 ICH patients and 31 healthy controls in the discovery"},
      {"ln":5,"px":0,"t":"cohort. The red columns represent upregulated circRNAs, while blue columns represent downregulated circRNAs. (D) The bar diagram shows"},
      {"ln":6,"px":0,"t":"the circRNA distribution in the chromosomes between 20 ICH patients and 19 healthy controls in the validation cohort. The red columns"},
      {"ln":7,"px":0,"t":"represent upregulated circRNAs, while blue columns represent downregulated circRNAs. (E) The bar diagram and pie chart show the"},
      {"ln":8,"px":0,"t":"differentially expressed circRNA distribution in the chromosome region (exonic, intronic, intergenic, alternate exon, overlapping exon and"},
      {"ln":9,"px":0,"t":"antisense) in 44 ICH patients compared with 31 healthy controls in the discovery cohort. (F) The bar diagram and pie chart show the"},
      {"ln":10,"px":0,"t":"differentially expressed circRNA distribution in the chromosome region (exonic, intronic, intergenic, alternate exon, overlapping exon and"},
      {"ln":11,"px":0,"t":"antisense) in 20 ICH patients compared with 19 healthy controls in the validation cohort."}
    ]
  },
  "spacing": 1,
  "vconcat": [
    {
      "spacing": 36,
      "resolve": {"scale": {"color": "independent"}, "legend": {"color": "independent"}},
      "vconcat": [
        {
          "spacing": 75,
          "resolve": {"scale": {"color": "independent"}, "legend": {"color": "independent"}},
          "hconcat": [
            {
              "width": 397, "height": 388,
              "view": {"stroke": "#1a1a1a", "strokeWidth": 1},
              "title": {"text": "A", "dx": -43, "offset": -7},
              "data": {"name": "volA"},
              "layer": [
                {"mark": {"type": "rule", "strokeDash": [4, 3], "color": "#A6A6A6", "strokeWidth": 0.8}, "encoding": {"x": {"datum": -0.585, "type": "quantitative"}}},
                {"mark": {"type": "rule", "strokeDash": [4, 3], "color": "#A6A6A6", "strokeWidth": 0.8}, "encoding": {"x": {"datum": 0.585, "type": "quantitative"}}},
                {"mark": {"type": "rule", "strokeDash": [6, 2, 1, 2], "color": "#A6A6A6", "strokeWidth": 0.8}, "encoding": {"y": {"datum": 1.301, "type": "quantitative"}}},
                {
                  "mark": {"type": "circle", "size": 75, "opacity": 1},
                  "encoding": {
                    "x": {"field": "x", "type": "quantitative", "scale": {"domain": [-4, 4], "nice": false, "zero": false},
                      "axis": {"values": [-4, -3, -2, -1, 0, 1, 2, 3, 4], "title": "log2(Fold change)", "grid": true, "gridColor": "#E6E6E6", "labelFontSize": 14, "labelColor": "#000", "tickSize": 5, "labelPadding": 3, "titleFontSize": 19, "titleFontWeight": "normal", "titlePadding": 2}},
                    "y": {"field": "y", "type": "quantitative", "scale": {"domain": [-0.09, 8], "nice": false, "zero": false},
                      "axis": {"values": [0, 1, 2, 3, 4, 5, 6, 7, 8], "title": "-log10(FDR)", "grid": true, "gridColor": "#E6E6E6", "labelFontSize": 14, "labelColor": "#000", "tickSize": 5, "labelPadding": 3, "titleFontSize": 19, "titleFontWeight": "normal", "titlePadding": 6}},
                    "color": {"field": "g", "type": "nominal", "scale": {"domain": ["D", "N", "U"], "range": ["#377EB8", "#BEBEBE", "#E41A1C"]},
                      "legend": {"orient": "none", "legendX": 16, "legendY": -32, "direction": "horizontal", "title": null, "symbolType": "circle", "symbolSize": 230, "symbolStrokeWidth": 0, "symbolOpacity": 1, "labelFontSize": 12, "labelColor": "#222", "labelOffset": 14, "columnPadding": 21,
                        "labelExpr": "datum.label == 'D' ? 'Down regulated' : datum.label == 'N' ? 'Not changed' : 'Up regulated'"}}
                  }
                }
              ]
            },
            {
              "width": 396, "height": 388,
              "view": {"stroke": "#1a1a1a", "strokeWidth": 1},
              "title": {"text": "B", "dx": -40, "offset": -7},
              "data": {"name": "volB"},
              "layer": [
                {"mark": {"type": "rule", "strokeDash": [4, 3], "color": "#A6A6A6", "strokeWidth": 0.8}, "encoding": {"x": {"datum": -0.585, "type": "quantitative"}}},
                {"mark": {"type": "rule", "strokeDash": [4, 3], "color": "#A6A6A6", "strokeWidth": 0.8}, "encoding": {"x": {"datum": 0.585, "type": "quantitative"}}},
                {"mark": {"type": "rule", "strokeDash": [6, 2, 1, 2], "color": "#A6A6A6", "strokeWidth": 0.8}, "encoding": {"y": {"datum": 1.301, "type": "quantitative"}}},
                {
                  "mark": {"type": "circle", "size": 75, "opacity": 1},
                  "encoding": {
                    "x": {"field": "x", "type": "quantitative", "scale": {"domain": [-6, 6], "nice": false, "zero": false},
                      "axis": {"values": [-6, -4, -2, 0, 2, 4, 6], "title": "log2(Fold change)", "grid": true, "gridColor": "#E6E6E6", "labelFontSize": 14, "labelColor": "#000", "tickSize": 5, "labelPadding": 3, "titleFontSize": 19, "titleFontWeight": "normal", "titlePadding": 2}},
                    "y": {"field": "y", "type": "quantitative", "scale": {"domain": [-0.09, 7], "nice": false, "zero": false},
                      "axis": {"values": [0, 1, 2, 3, 4, 5, 6, 7], "title": "-log10(FDR)", "grid": true, "gridColor": "#E6E6E6", "labelFontSize": 14, "labelColor": "#000", "tickSize": 5, "labelPadding": 3, "titleFontSize": 19, "titleFontWeight": "normal", "titlePadding": 6}},
                    "color": {"field": "g", "type": "nominal", "scale": {"domain": ["D", "N", "U"], "range": ["#377EB8", "#BEBEBE", "#E41A1C"]},
                      "legend": {"orient": "none", "legendX": 16, "legendY": -32, "direction": "horizontal", "title": null, "symbolType": "circle", "symbolSize": 230, "symbolStrokeWidth": 0, "symbolOpacity": 1, "labelFontSize": 12, "labelColor": "#222", "labelOffset": 14, "columnPadding": 21,
                        "labelExpr": "datum.label == 'D' ? 'Down regulated' : datum.label == 'N' ? 'Not changed' : 'Up regulated'"}}
                  }
                }
              ]
            }
          ]
        },
        {
          "spacing": 18,
          "resolve": {"scale": {"color": "independent"}, "legend": {"color": "independent"}},
          "hconcat": [
            {
              "width": 373, "height": 233,
              "title": {"text": "C", "dx": -45, "offset": 8},
              "data": {"name": "chrC"},
              "mark": {"type": "bar", "stroke": "#ffffff", "strokeWidth": 0.6},
              "encoding": {
                "x": {"field": "chr", "type": "nominal", "sort": null, "scale": {"paddingInner": 0.1, "paddingOuter": 0.15},
                  "axis": {"title": "Chromosomes", "labelAngle": -35, "labelAlign": "right", "labelBaseline": "top", "labelFontSize": 12, "labelColor": "#4D4D4D", "tickSize": 3, "tickColor": "#333", "domainColor": "#333", "domainWidth": 1.2, "titleFontSize": 14, "titleFontWeight": "bold", "titlePadding": 14}},
                "y": {"field": "n", "type": "quantitative", "stack": "zero", "scale": {"domain": [0, 10], "nice": false},
                  "axis": {"values": [0, 2.5, 5, 7.5, 10], "format": ".1f", "title": "circRNAs", "labelFontSize": 12, "labelColor": "#4D4D4D", "tickSize": 3, "tickColor": "#333", "domainColor": "#333", "domainWidth": 1.2, "titleFontSize": 15, "titleFontWeight": "bold", "titlePadding": 9}},
                "color": {"field": "dir", "type": "nominal", "scale": {"domain": ["Up", "Down"], "range": ["#F9918A", "#33CCD0"]},
                  "legend": {"orient": "none", "legendX": 393, "legendY": 118, "title": null, "symbolType": "square", "symbolSize": 230, "symbolStrokeWidth": 0, "symbolOpacity": 1, "labelFontSize": 15, "labelColor": "#222", "labelOffset": 6, "rowPadding": 1}},
                "order": {"field": "dir", "sort": "ascending"}
              }
            },
            {
              "width": 322, "height": 234,
              "title": {"text": "E", "dx": -81, "offset": 7},
              "data": {"name": "regE"},
              "encoding": {
                "color": {"field": "cat", "type": "nominal", "scale": {"domain": ["Exonic", "Intronic", "Alternate exon", "Overlap exon", "Antiense", "Intergenic"], "range": ["#F39B7F", "#5040D6", "#00A087", "#3C5488", "#EE2C4C", "#8491B4"]}, "legend": null}
              },
              "layer": [
                {
                  "mark": {"type": "bar", "stroke": "#ffffff", "strokeWidth": 0.6},
                  "encoding": {
                    "x": {"field": "cat", "type": "nominal", "sort": null, "scale": {"paddingInner": 0.2, "paddingOuter": 0.3},
                      "axis": {"title": null, "labelAngle": -55, "labelAlign": "right", "labelBaseline": "middle", "labelFontSize": 12, "labelColor": "#222", "tickSize": 4, "tickColor": "#555", "domainColor": "#D9D9D9"}},
                    "y": {"field": "n", "type": "quantitative", "scale": {"domain": [0, 109.5], "nice": false},
                      "axis": {"values": [0, 20, 40, 60, 80, 100], "title": "Count", "labelFontSize": 11, "labelColor": "#222", "tickSize": 3, "tickColor": "#555", "domainColor": "#D9D9D9", "titleFontSize": 16, "titleFontWeight": "normal", "titlePadding": 4}}
                  }
                },
                {
                  "mark": {"type": "text", "baseline": "alphabetic", "dy": -3, "fontSize": 11},
                  "encoding": {
                    "x": {"field": "cat", "type": "nominal", "sort": null},
                    "y": {"field": "n", "type": "quantitative"},
                    "text": {"field": "n", "type": "quantitative"}
                  }
                },
                {
                  "mark": {"type": "arc", "outerRadius": 46, "stroke": "#ffffff", "strokeWidth": 1},
                  "encoding": {
                    "theta": {"field": "n", "type": "quantitative", "stack": true},
                    "order": {"field": "i", "sort": "descending"}
                  }
                }
              ]
            }
          ]
        }
      ]
    },
    {
      "spacing": 9,
      "resolve": {"scale": {"color": "independent"}, "legend": {"color": "independent"}},
      "vconcat": [
        {
          "spacing": 14,
          "resolve": {"scale": {"color": "independent"}, "legend": {"color": "independent"}},
          "hconcat": [
            {
              "width": 382, "height": 238,
              "title": {"text": "D", "dx": -45, "offset": 35},
              "data": {"name": "chrD"},
              "mark": {"type": "bar", "stroke": "#ffffff", "strokeWidth": 0.6},
              "encoding": {
                "x": {"field": "chr", "type": "nominal", "sort": null, "scale": {"paddingInner": 0.1, "paddingOuter": 0.1},
                  "axis": {"title": "Chromosomes", "labelAngle": -35, "labelAlign": "right", "labelBaseline": "top", "labelFontSize": 12, "labelColor": "#4D4D4D", "tickSize": 3, "tickColor": "#333", "domainColor": "#333", "domainWidth": 1.2, "titleFontSize": 14, "titleFontWeight": "bold", "titlePadding": 14}},
                "y": {"field": "n", "type": "quantitative", "stack": "zero", "scale": {"domain": [0, 30.03], "nice": false},
                  "axis": {"values": [0, 10, 20], "title": "circRNAs", "labelFontSize": 12, "labelColor": "#4D4D4D", "tickSize": 3, "tickColor": "#333", "domainColor": "#333", "domainWidth": 1.2, "titleFontSize": 15, "titleFontWeight": "bold", "titlePadding": 11}},
                "color": {"field": "dir", "type": "nominal", "scale": {"domain": ["Up", "Down"], "range": ["#F9918A", "#33CCD0"]},
                  "legend": {"orient": "none", "legendX": 396, "legendY": 124, "title": null, "symbolType": "square", "symbolSize": 230, "symbolStrokeWidth": 0, "symbolOpacity": 1, "labelFontSize": 15, "labelColor": "#222", "labelOffset": 6, "rowPadding": 1}},
                "order": {"field": "dir", "sort": "ascending"}
              }
            },
            {
              "width": 321, "height": 240,
              "title": {"text": "F", "dx": -83, "offset": 31},
              "data": {"name": "regF"},
              "encoding": {
                "color": {"field": "cat", "type": "nominal", "scale": {"domain": ["Exonic", "Intronic", "Alternate exon", "Overlap exon", "Antiense", "Intergenic"], "range": ["#F39B7F", "#5040D6", "#00A087", "#3C5488", "#EE2C4C", "#8491B4"]}, "legend": null}
              },
              "layer": [
                {
                  "mark": {"type": "bar", "stroke": "#ffffff", "strokeWidth": 0.6},
                  "encoding": {
                    "x": {"field": "cat", "type": "nominal", "sort": null, "scale": {"paddingInner": 0.2, "paddingOuter": 0.3},
                      "axis": {"title": null, "labelAngle": -55, "labelAlign": "right", "labelBaseline": "middle", "labelFontSize": 12, "labelColor": "#222", "tickSize": 4, "tickColor": "#555", "domainColor": "#D9D9D9"}},
                    "y": {"field": "n", "type": "quantitative", "scale": {"domain": [0, 252], "nice": false},
                      "axis": {"values": [0, 50, 100, 150, 200, 250], "title": "Count", "labelFontSize": 11, "labelColor": "#222", "tickSize": 3, "tickColor": "#555", "domainColor": "#D9D9D9", "titleFontSize": 16, "titleFontWeight": "normal", "titlePadding": 4}}
                  }
                },
                {
                  "mark": {"type": "text", "baseline": "alphabetic", "dy": -3, "fontSize": 11},
                  "encoding": {
                    "x": {"field": "cat", "type": "nominal", "sort": null},
                    "y": {"field": "n", "type": "quantitative"},
                    "text": {"field": "n", "type": "quantitative"}
                  }
                },
                {
                  "mark": {"type": "arc", "outerRadius": 46, "stroke": "#ffffff", "strokeWidth": 1},
                  "encoding": {
                    "theta": {"field": "n", "type": "quantitative", "stack": true},
                    "order": {"field": "i", "sort": "descending"}
                  }
                }
              ]
            }
          ]
        },
        {
          "width": 1040, "height": 290,
          "data": {"name": "caption"},
          "layer": [
            {
              "transform": [{"filter": "datum.ln == 0"}],
              "mark": {"type": "text", "align": "left", "baseline": "middle", "fontSize": 13, "fontWeight": "bold", "color": "#555"},
              "encoding": {
                "x": {"field": "px", "type": "quantitative", "scale": {"domain": [173, 1213], "nice": false, "zero": false}, "axis": null},
                "y": {"field": "ln", "type": "quantitative", "scale": {"domain": [-0.46, 11.71], "nice": false, "zero": false, "reverse": true}, "axis": null},
                "text": {"field": "t"}
              }
            },
            {
              "transform": [{"filter": "datum.ln > 0"}],
              "mark": {"type": "text", "align": "left", "baseline": "middle", "fontSize": 19, "color": "#555"},
              "encoding": {
                "x": {"field": "px", "type": "quantitative"},
                "y": {"field": "ln", "type": "quantitative"},
                "text": {"field": "t"}
              }
            }
          ]
        }
      ]
    }
  ]
}
